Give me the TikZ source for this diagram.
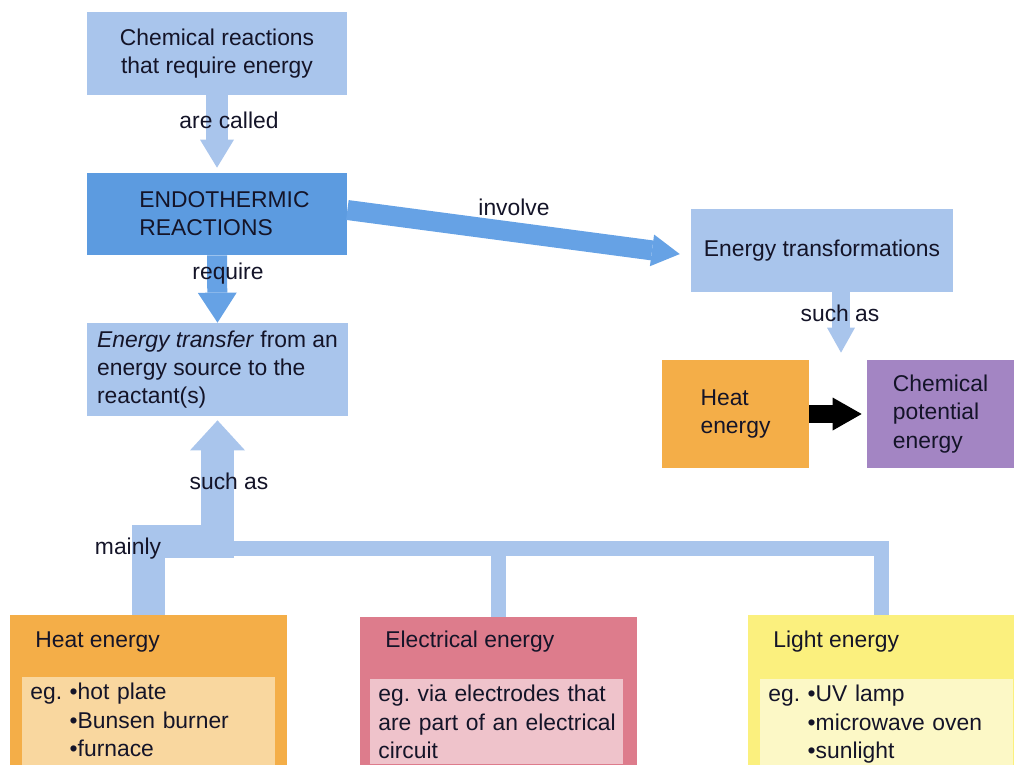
\documentclass[tikz,border=0pt]{standalone}
\usepackage{fontspec}
\setmainfont{Liberation Sans}
\usepackage{xcolor}
\usepackage{tikz}
\usetikzlibrary{arrows.meta}
\definecolor{boxblue}{HTML}{A9C5EC}
\definecolor{endoblue}{HTML}{5C9BE0}
\definecolor{arrowblue}{HTML}{66A2E5}
\definecolor{heatc}{HTML}{F4AE48}
\definecolor{heatlt}{HTML}{F9D79F}
\definecolor{elecc}{HTML}{DD7C8C}
\definecolor{eleclt}{HTML}{EFC3CB}
\definecolor{lightc}{HTML}{FBF07E}
\definecolor{lightlt}{HTML}{FCF8C6}
\definecolor{purplec}{HTML}{A385C3}
\definecolor{inkc}{HTML}{141428}
\tikzset{
	every node/.style={font=\fontsize{13}{16}\selectfont, text=inkc},
	box/.style n args={3}{fill=#1, minimum width=#2, minimum height=#3, inner sep=1mm},
	srctitle/.style={anchor=base west, inner sep=0pt},
	srclist/.style={fill=#1, text width=47.4mm, inner xsep=1.6mm, inner ysep=1.2mm, align=left},
	blockarrow/.style n args={4}{draw=#2, line width=#1, -{Triangle[width=#3, length=#4, line width=0pt]}},
	bus/.style={draw=boxblue, line width=3mm}
}

\begin{document}
\begin{tikzpicture}[x=0.2mm, y=-0.2mm]
	\useasboundingbox (0,0) rectangle (1015,764);
	\clip (0,0) rectangle (1015,764);

	\node[box={boxblue}{52mm}{16.6mm}, align=center] (chem) at (217,53.5) {Chemical reactions\\that require energy};
	\node[box={endoblue}{52mm}{16.4mm}, align=left] (endo) at (217,214) {\hspace*{3mm}ENDOTHERMIC\\\hspace*{3mm}REACTIONS};
	\node[box={boxblue}{52.2mm}{18.6mm}, align=left] (transfer) at (217.5,369.5) {\textit{Energy transfer} from an\\energy source to the\\reactant(s)};
	\node[box={boxblue}{52.4mm}{16.6mm}] (trans) at (822,250.5) {Energy transformations};
	\node[box={heatc}{29.4mm}{21.6mm}, align=left] (heat) at (735.5,414) {Heat\\energy};
	\node[box={purplec}{29.4mm}{21.6mm}, align=left] (chempot) at (940.5,414) {Chemical\\potential\\energy};

	\node[box={heatc}{55.4mm}{34mm}] (heatsrc) at (148.5,700) {};
	\node[box={elecc}{55.4mm}{34mm}] (elecsrc) at (498.5,702) {};
	\node[box={lightc}{53.2mm}{34mm}] (lightsrc) at (881,700) {};
	\node[srctitle] (heattitle) at (35,647) {Heat energy};
	\node[srctitle] (electitle) at (385,647) {Electrical energy};
	\node[srctitle] (lighttitle) at (773,647) {Light energy};
	\node[srclist=heatlt, anchor=north west] (heatlist) at (22,677) {eg.\ •hot plate\\\phantom{eg.}\ •Bunsen burner\\\phantom{eg.}\ •furnace};
	\node[srclist=eleclt, anchor=north west] (eleclist) at (370,679) {\mbox{eg.\ via electrodes that}\\\mbox{are part of an electrical}\\circuit};
	\node[srclist=lightlt, anchor=north west] (lightlist) at (760,679) {eg.\ •UV lamp\\\phantom{eg.}\ •microwave oven\\\phantom{eg.}\ •sunlight};

	\coordinate (suchtop) at ([xshift=3.8mm]trans.south);
	\coordinate (hub) at (transfer.south |- 0,541);
	\coordinate (bus) at (transfer.south |- 0,548);

	\draw[blockarrow={4.4mm}{boxblue}{6.8mm}{5.6mm}, shorten >=1mm] (chem.south) -- (endo.north);
	\draw[blockarrow={4mm}{arrowblue}{7.8mm}{6mm}] (endo.south) -- (transfer.north);
	\draw[blockarrow={4mm}{arrowblue}{6.4mm}{5.6mm}, shorten >=2.2mm] ([yshift=0.8mm]endo.east) -- ([yshift=-1mm]trans.west);
	\draw[blockarrow={3.6mm}{boxblue}{5.6mm}{5mm}, shorten >=1.4mm] (suchtop) -- (suchtop |- heat.north);
	\draw[blockarrow={3.6mm}{black}{6.6mm}{5.8mm}, shorten >=1mm] (heat.east) -- (chempot.west);

	\draw[bus] (bus) -| (elecsrc.north);
	\draw[bus] (bus) -| (lightsrc.north);
	\draw[blockarrow={6.6mm}{boxblue}{11mm}{6mm}, shorten >=0.8mm] (heatsrc.north) |- (hub) -- (transfer.south);

	\node (calledlbl) at (229,120) {are called};
	\node (requirelbl) at (228,274) {require};
	\node (involvelbl) at (514,207) {involve};
	\node (suchaslbl) at (840,313) {such as};
	\node (suchasleft) at (229,481) {such as};
	\node (mainlylbl) at (128,549) {mainly};
\end{tikzpicture}
\end{document}
